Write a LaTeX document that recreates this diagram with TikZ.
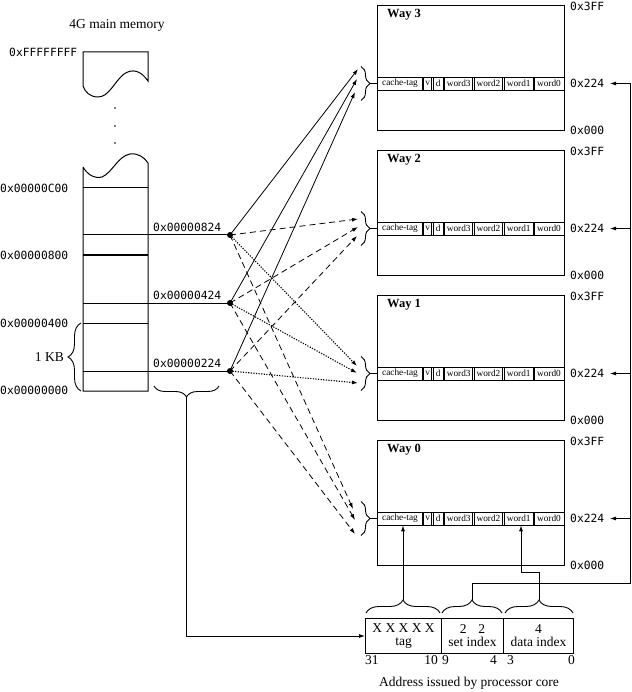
\documentclass[tikz,border=0pt]{standalone}
\usepackage{fontspec}
\setmainfont{Liberation Serif}
\newfontfamily\hexfont{DejaVu Sans Mono}
\usetikzlibrary{arrows.meta,decorations.pathreplacing}
\tikzset{
  ln/.style={line width=0.9pt},
  hex/.style={font=\hexfont\fontsize{11.3}{12}\selectfont, inner sep=0pt},
  ser/.style={font=\fontsize{13.5}{13}\selectfont, inner sep=0pt},
  celltext/.style={font=\fontsize{9.3}{9}\selectfont, inner sep=0pt},
  waylabel/.style={font=\bfseries\fontsize{12.5}{12}\selectfont, inner sep=0pt, anchor=west},
  arr/.style={-{Latex[length=6pt,width=4pt]}, line width=0.8pt},
  dsh/.style={arr, dash pattern=on 6pt off 4pt},
  dtt/.style={arr, line width=1.1pt, dash pattern=on 1.2pt off 1.4pt},
  dotnode/.style={circle, fill, inner sep=0pt, minimum size=6pt},
  brc/.style={decorate, decoration={brace, amplitude=#1}, line width=0.9pt},
  brc/.default=9,
  fieldbox/.style={draw, line width=1pt, minimum height=35pt, inner sep=0pt, anchor=north west, align=center, font=\fontsize{13.5}{13}\selectfont},
}
\begin{document}
\begin{tikzpicture}[x=1pt,y=-1pt]
\useasboundingbox (0,0) rectangle (631,692);

% ---------- main memory ----------
\node[ser] (title) at (117,25) {4G main memory};
\draw[line width=1pt] (83,86) -- (83,52) -- (148,52) -- (148,81)
  .. controls (141,71) and (133,68) .. (124,74)
  .. controls (114,82) and (109,97) .. (98,97)
  .. controls (90,97) and (85,92) .. (83,86);
\foreach \yy in {108,126,143} \fill (115,\yy) circle (0.8pt);
\draw[line width=1pt] (83,167) -- (83,391) -- (148,391) -- (148,163)
  .. controls (144,157) and (138,153) .. (130,154)
  .. controls (118,156) and (112,173) .. (102,177)
  .. controls (94,179) and (87,174) .. (83,167);
\foreach \yy in {188,255,323} \draw[line width=1pt] (83,\yy) -- (148,\yy);

\node[hex, anchor=west] (aF) at (9,52) {0xFFFFFFFF};
\node[hex, anchor=west] (aC) at (0,188) {0x00000C00};
\node[hex, anchor=west] (a8) at (0,255) {0x00000800};
\node[hex, anchor=west] (a4) at (0,323) {0x00000400};
\node[hex, anchor=west] (a0) at (0,390) {0x00000000};

\draw[brc=13] (81,391) -- (81,323);
\node[ser, anchor=east] (kb) at (64,357) {1 KB};

% dots and address lines
\node[dotnode] (p824) at (230,235) {};
\node[dotnode] (p424) at (230,303) {};
\node[dotnode] (p224) at (230,371) {};
\draw[line width=1pt] (83,235) -- (p824.center);
\draw[line width=1pt] (83,303) -- (p424.center);
\draw[line width=1pt] (83,371) -- (p224.center);
\node[hex, anchor=west] (l824) at (153,227.5) {0x00000824};
\node[hex, anchor=west] (l424) at (153,295.5) {0x00000424};
\node[hex, anchor=west] (l224) at (153,363.5) {0x00000224};

\draw[brc=11] (219,386) -- (154,386);
\coordinate (membr) at (186.5,397);

% ---------- cache ways ----------
\foreach \k/\T in {3/5, 2/150, 1/295, 0/440} {
  \pgfmathsetmacro\C{\T+78.5}
  \node[draw, line width=1pt, minimum width=187pt, minimum height=125pt, anchor=north west, inner sep=0pt] (way\k) at (377,\T) {};
  \node[waylabel] (wl\k) at (387,{\T+10}) {Way \k};
  \node[draw, line width=0.7pt, minimum width=187pt, minimum height=13pt, inner sep=0pt] (row\k) at (470.5,\C) {};
  \foreach \b in {423,432.5,444,473.5,503.5,534} {
    \draw[line width=0.55pt] ({\b-0.75},{\C-6.5}) -- ({\b-0.75},{\C+6.5});
    \draw[line width=0.55pt] ({\b+0.75},{\C-6.5}) -- ({\b+0.75},{\C+6.5});
  }
  \foreach \xx/\tx/\nm in {400/cache-tag/tag, 427.75/v/v, 438.25/d/d, 458.75/word3/w3, 488.5/word2/w2, 518.75/word1/w1, 549/word0/w0} {
    \node[celltext] (c\k\nm) at (\xx,\C) {\tx};
  }
  \node[hex, anchor=west] (top\k) at (570,{\T+1}) {0x3FF};
  \node[hex, anchor=west] (mid\k) at (570,\C) {0x224};
  \node[hex, anchor=west] (bot\k) at (570,{\T+125}) {0x000};
  \draw[brc=9] (361,{\C-17}) -- (361,{\C+17});
  \coordinate (bt\k) at (370,\C);
  \draw[line width=0.8pt] (bt\k) -- (row\k.west);
  \coordinate (rs\k) at (630,\C);
  \coordinate (re\k) at (610,\C);
  \draw[arr] (rs\k) -- (re\k);
}

% arrow targets
\coordinate (t3a) at (358,69);  \coordinate (t3b) at (357,79);  \coordinate (t3c) at (355,92);
\coordinate (t2a) at (358,219); \coordinate (t2b) at (358,227); \coordinate (t2c) at (357,236);
\coordinate (t1a) at (357,366); \coordinate (t1b) at (357,373); \coordinate (t1c) at (358,383);
\coordinate (t0a) at (353,509); \coordinate (t0b) at (355,520); \coordinate (t0c) at (355,534);

\draw[arr] (p824.center) -- (t3a);
\draw[arr] (p424.center) -- (t3b);
\draw[arr] (p224.center) -- (t3c);
\draw[dsh] (p824.center) -- (t2a);
\draw[dsh] (p424.center) -- (t2b);
\draw[dsh] (p224.center) -- (t2c);
\draw[dtt] (p824.center) -- (t1a);
\draw[dtt] (p424.center) -- (t1b);
\draw[dtt] (p224.center) -- (t1c);
\draw[dsh] (p824.center) -- (t0a);
\draw[dsh] (p424.center) -- (t0b);
\draw[dsh] (p224.center) -- (t0c);

% ---------- address ----------
\node[fieldbox, minimum width=76pt] (tagf) at (365,618) {X X X X X\\tag};
\node[fieldbox, minimum width=62pt] (setf) at (441,618) {2\hspace{12pt}2\\set index};
\node[fieldbox, minimum width=70pt] (dataf) at (503,618) {4\\data index};

\draw[brc=13] (366,613) -- (440,613);
\draw[brc=13] (442,613) -- (502,613);
\draw[brc=13] (505,613) -- (573,613);
\coordinate (tagbr) at (403,600);
\coordinate (setbr) at (472,600);
\coordinate (databr) at (539,600);

\node[ser, anchor=west] (b31) at (365,660) {31};
\node[ser, anchor=east] (b10) at (438,660) {10};
\node[ser, anchor=west] (b9) at (442,660) {9};
\node[ser, anchor=east] (b4) at (497,660) {4};
\node[ser, anchor=west] (b3) at (507,660) {3};
\node[ser, anchor=east] (b0) at (575,660) {0};
\node[ser] (cap) at (469,683) {Address issued by processor core};

% connectors from address
\draw[arr] (membr) |- (tagf.west);
\draw[arr] (tagbr) -- (tagbr |- row0.south);
\coordinate (dk1) at (539,572);
\coordinate (dk2) at (521,572);
\draw[arr] (databr) -- (dk1) -- (dk2) -- (dk2 |- row0.south);
\coordinate (sk1) at (472,583);
\coordinate (sk2) at (630,583);
\draw[line width=0.8pt] (setbr) -- (sk1) -- (sk2) -- (rs3);
\end{tikzpicture}
\end{document}
